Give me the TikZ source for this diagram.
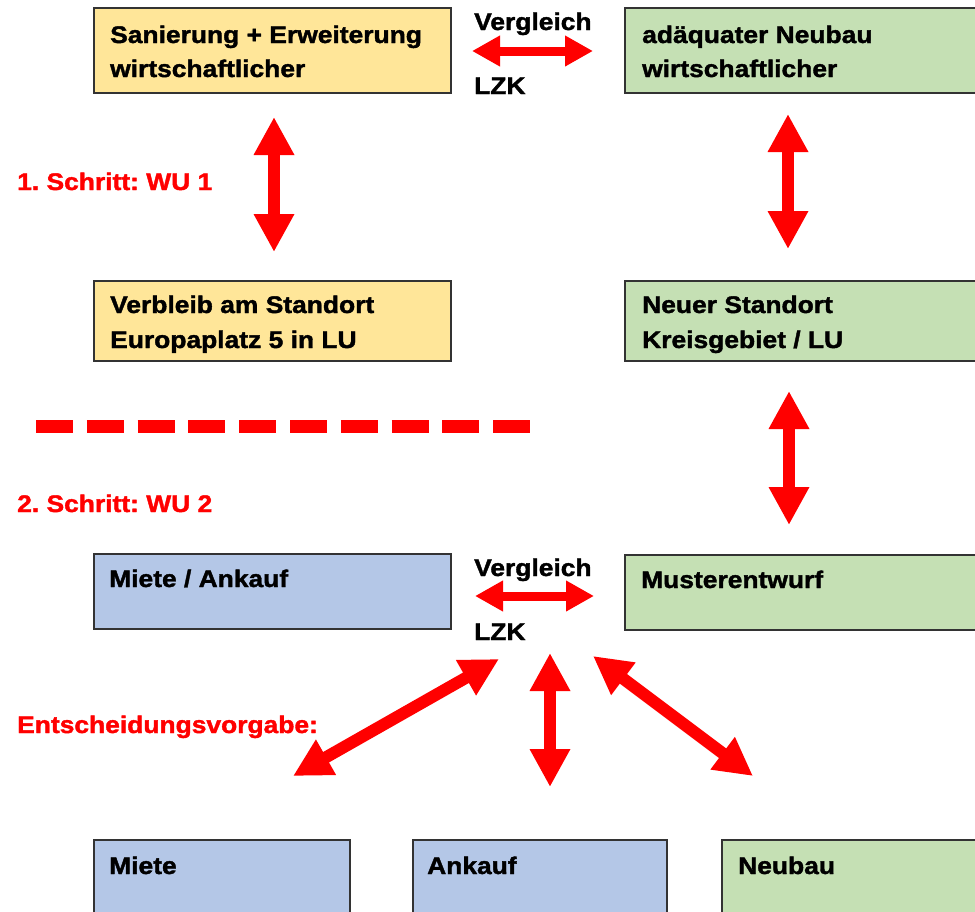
\documentclass[tikz,border=0pt]{standalone}
\usepackage{fontspec}
\usetikzlibrary{arrows.meta}
\newfontfamily\dfont{Liberation Sans Bold}[FakeStretch=1.1,FakeBold=1.6]
\frenchspacing
\definecolor{yel}{HTML}{FFE699}
\definecolor{grn}{HTML}{C5E0B4}
\definecolor{blu}{HTML}{B4C7E7}
\definecolor{bord}{HTML}{333333}
\tikzset{
  box/.style={draw=bord, line width=1.5pt, anchor=north west, inner sep=0pt},
  lbl/.style={anchor=base west, inner sep=0pt, font=\dfont\fontsize{24}{28}\selectfont},
  rlbl/.style={lbl, text=red},
  bigarrow/.style={draw=red, line width=12pt, {Triangle[length=38pt,width=38pt]}-{Triangle[length=38pt,width=38pt]}},
  smallarrow/.style={draw=red, line width=9pt, {Triangle[length=28pt,width=29pt]}-{Triangle[length=28pt,width=29pt]}},
  dashline/.style={draw=red, line width=13pt, dash pattern=on 37pt off 13.8pt}
}
\begin{document}
\begin{tikzpicture}[x=1pt,y=-1pt]
\useasboundingbox (0,0) rectangle (975,911);
\clip (0,0) rectangle (975,911);
% boxes
\node[box, fill=yel, minimum width=357pt, minimum height=85pt] (b1) at (93,7) {};
\node[box, fill=grn, minimum width=370pt, minimum height=85pt] (b2) at (624,7) {};
\node[box, fill=yel, minimum width=357pt, minimum height=80pt] (b3) at (93,280) {};
\node[box, fill=grn, minimum width=370pt, minimum height=80pt] (b4) at (624,280) {};
\node[box, fill=blu, minimum width=357pt, minimum height=75pt] (b5) at (93,553) {};
\node[box, fill=grn, minimum width=370pt, minimum height=75pt] (b6) at (624,554) {};
\node[box, fill=blu, minimum width=256pt, minimum height=90pt] (b7) at (93,839) {};
\node[box, fill=blu, minimum width=254pt, minimum height=90pt] (b8) at (412,839) {};
\node[box, fill=grn, minimum width=270pt, minimum height=90pt] (b9) at (721,839) {};
% box texts
\node[lbl] (t1a) at (110,43) {Sanierung + Erweiterung};
\node[lbl] (t1b) at (110,77) {wirtschaftlicher};
\node[lbl] (t2a) at (642,43) {adäquater Neubau};
\node[lbl] (t2b) at (642,77) {wirtschaftlicher};
\node[lbl] (t3a) at (110,313) {Verbleib am Standort};
\node[lbl] (t3b) at (110,348) {Europaplatz 5 in LU};
\node[lbl] (t4a) at (642,313) {Neuer Standort};
\node[lbl] (t4b) at (642,348) {Kreisgebiet / LU};
\node[lbl] (t5) at (109,587) {Miete / Ankauf};
\node[lbl] (t6) at (641,588) {Musterentwurf};
\node[lbl] (t7) at (109,874) {Miete};
\node[lbl] (t8) at (427,874) {Ankauf};
\node[lbl] (t9) at (738,874) {Neubau};
% comparison labels
\node[lbl] (v1) at (474,30) {Vergleich};
\node[lbl] (l1) at (474,94) {LZK};
\node[lbl] (v2) at (474,576) {Vergleich};
\node[lbl] (l2) at (474,640) {LZK};
% red labels
\node[rlbl] (s1) at (17,190) {1. Schritt: WU 1};
\node[rlbl] (s2) at (17,512) {2. Schritt: WU 2};
\node[rlbl] (s3) at (17,733) {Entscheidungsvorgabe:};
% arrow end points
\coordinate (a1s) at (472,51); \coordinate (a1e) at (593,51);
\coordinate (a2s) at (274,117); \coordinate (a2e) at (274,252);
\coordinate (a3s) at (788,114); \coordinate (a3e) at (788,249);
\coordinate (a4s) at (789,391); \coordinate (a4e) at (789,525);
\coordinate (a5s) at (475,596); \coordinate (a5e) at (594,596);
\coordinate (a6s) at (499,659); \coordinate (a6e) at (293,776);
\coordinate (a7s) at (550,653); \coordinate (a7e) at (550,787);
\coordinate (a8s) at (593,656); \coordinate (a8e) at (753,776);
\coordinate (d1) at (36,426.5); \coordinate (d2) at (531,426.5);
% arrows
\draw[smallarrow] (a1s) -- (a1e);
\draw[bigarrow] (a2s) -- (a2e);
\draw[bigarrow] (a3s) -- (a3e);
\draw[bigarrow] (a4s) -- (a4e);
\draw[smallarrow] (a5s) -- (a5e);
\draw[bigarrow] (a6s) -- (a6e);
\draw[bigarrow] (a7s) -- (a7e);
\draw[bigarrow] (a8s) -- (a8e);
% dashed separator
\draw[dashline] (d1) -- (d2);
\end{tikzpicture}
\end{document}
